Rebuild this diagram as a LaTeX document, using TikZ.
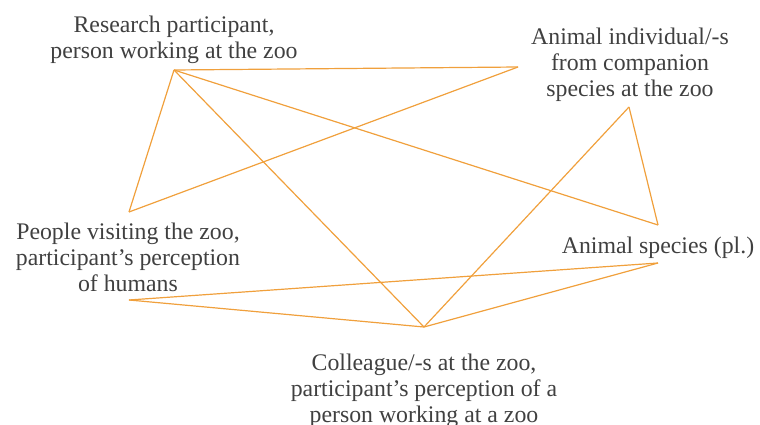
\documentclass[tikz,border=0pt]{standalone}
\usepackage{fontspec}
\setmainfont{Liberation Serif}
\definecolor{edgeor}{RGB}{240,160,60}
\definecolor{txtgray}{RGB}{64,64,64}
\begin{document}
\begin{tikzpicture}[x=1pt,y=-1pt,
  lbl/.style={align=center,inner sep=0pt,anchor=base,text=txtgray,
    font=\fontsize{23.8}{26}\selectfont},
  link/.style={draw=edgeor,line width=1.2pt}]
\useasboundingbox (0,0) rectangle (760,425);
% text labels (anchored at the baseline of the last line)
\node[lbl] (tR) at (174,59) {Research participant,\\person working at the zoo};
\node[lbl] (tA) at (630,97) {Animal individual/-s\\from companion\\species at the zoo};
\node[lbl] (tP) at (128,291) {People visiting the zoo,\\participant’s perception\\of humans};
\node[lbl] (tS) at (658,253) {Animal species (pl.)};
\node[lbl] (tC) at (424,422) {Colleague/-s at the zoo,\\participant’s perception of a\\person working at a zoo};
% connection points
\coordinate (R) at (174,70);
\coordinate (A1) at (518,67);
\coordinate (A2) at (629,107);
\coordinate (P1) at (129,212);
\coordinate (P2) at (129,300);
\coordinate (S1) at (658,225);
\coordinate (S2) at (658,263);
\coordinate (C) at (424,327);
% connectors
\draw[link] (R) -- (A1);
\draw[link] (R) -- (P1);
\draw[link] (R) -- (S1);
\draw[link] (R) -- (C);
\draw[link] (A1) -- (P1);
\draw[link] (A2) -- (C);
\draw[link] (A2) -- (S1);
\draw[link] (P2) -- (S2);
\draw[link] (P2) -- (C);
\draw[link] (S2) -- (C);
\end{tikzpicture}
\end{document}
